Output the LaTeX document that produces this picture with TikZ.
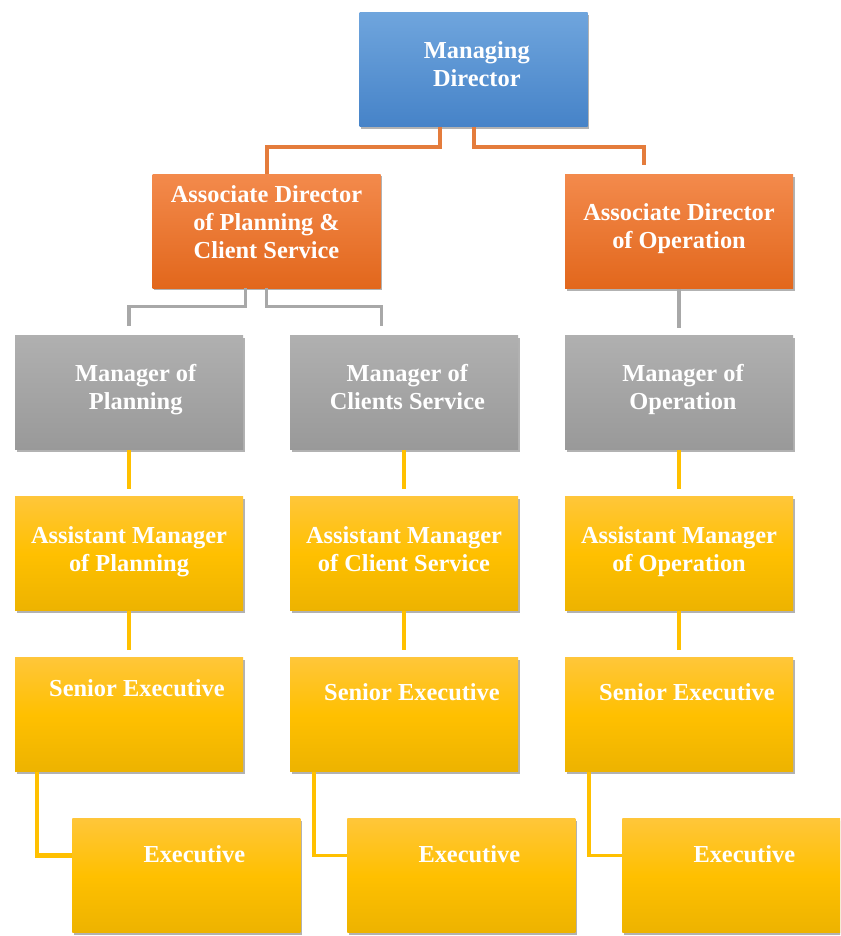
\documentclass[tikz,border=0pt]{standalone}
\usepackage{fontspec}
\setmainfont{Liberation Serif}
\usetikzlibrary{positioning,shadows}
\definecolor{mdTop}{HTML}{6FA5DD}
\definecolor{mdBot}{HTML}{4683C8}
\definecolor{adTop}{HTML}{F38A4C}
\definecolor{adBot}{HTML}{E2671C}
\definecolor{mgTop}{HTML}{B0B0B0}
\definecolor{mgBot}{HTML}{999999}
\definecolor{exTop}{HTML}{FFC63A}
\definecolor{exBot}{HTML}{EDB300}
\definecolor{lnOrange}{HTML}{E47C3C}
\definecolor{lnGray}{HTML}{A8A8A8}
\definecolor{lnGold}{HTML}{FFC000}
% box text: optional lift, then the lines
\newcommand{\boxtext}[2][-2pt]{\raisebox{#1}[0pt][0pt]{\begin{tabular}{@{}c@{}}#2\end{tabular}}}

\begin{document}
\begin{tikzpicture}[
 x=0.75pt, y=-0.75pt,
 node distance=35.25pt and 35.25pt,
 box/.style={text=white, font=\fontsize{18.3}{21}\selectfont\bfseries,
 minimum width=171pt, minimum height=85.5pt, inner sep=0pt, outer sep=0pt,
 drop shadow={shadow xshift=1.2pt, shadow yshift=-1.8pt, opacity=0.3, fill=black}},
 mdbox/.style={box, top color=mdTop, bottom color=mdBot},
 adbox/.style={box, top color=adTop, bottom color=adBot},
 mgbox/.style={box, top color=mgTop, bottom color=mgBot},
 exbox/.style={box, top color=exTop, bottom color=exBot, middle color=lnGold},
 lo/.style={lnOrange, line width=3pt},
 lg/.style={lnGray, line width=2.4pt},
 ly/.style={lnGold, line width=2.4pt},
]
 \clip (0,0) rectangle (840,936);
 \fill[white] (0,0) rectangle (840,936);

 \node[mdbox] (md) at (473.5,69.5) {\boxtext{\hspace*{5pt}Managing\\ \hspace*{5pt}Director}};
 \node[adbox] (adp) at (266.5,231) {\boxtext[0pt]{Associate Director\\ of Planning \&\\ Client Service}};

 \node[mgbox] (mpl) at (129,392.5) {\boxtext{\hspace*{10pt}Manager of\\ \hspace*{10pt}Planning}};
 \node[mgbox, right=of mpl] (mcs) {\boxtext{\hspace*{5pt}Manager of\\ \hspace*{5pt}Clients Service}};
 \node[mgbox, right=of mcs] (mop) {\boxtext{\hspace*{6pt}Manager of\\ \hspace*{6pt}Operation}};
 \node[adbox, above=of mop] (ado) {\boxtext{Associate Director\\ of Operation}};

 \node[exbox, below=of mpl] (apl) {\boxtext[-3pt]{Assistant Manager\\ of Planning}};
 \node[exbox, below=of mcs] (acs) {\boxtext[-3pt]{Assistant Manager\\ of Client Service}};
 \node[exbox, below=of mop] (aop) {\boxtext[-3pt]{Assistant Manager\\ of Operation}};

 \node[exbox, below=of apl] (spl) {\boxtext[13.5pt]{\hspace*{12pt}Senior Executive}};
 \node[exbox, below=of acs] (scs) {\boxtext[10.5pt]{\hspace*{12pt}Senior Executive}};
 \node[exbox, below=of aop] (sop) {\boxtext[10.5pt]{\hspace*{12pt}Senior Executive}};

 \node[exbox, below=of spl, xshift=43pt] (epl) {\boxtext[9.5pt]{\hspace*{12pt}Executive}};
 \node[exbox, below=of scs, xshift=43pt] (ecs) {\boxtext[9.5pt]{\hspace*{12pt}Executive}};
 \node[exbox, below=of sop, xshift=43pt] (eop) {\boxtext[9.5pt]{\hspace*{12pt}Executive}};

 % director level
 \draw[lo] ([xshift=-25pt]md.south) -- ++(0,-15pt) -| (adp.north);
 \draw[lo] (md.south) -- ++(0,-15pt) -| ([xshift=-26pt,yshift=7pt]ado.north);
 % managers
 \draw[lg] ([xshift=-16pt]adp.south) -- ++(0,-14pt) -| ([yshift=7pt]mpl.north);
 \draw[lg] (adp.south) -- ++(0,-14pt) -| ([xshift=-17pt,yshift=7pt]mcs.north);
 \draw[lg] (ado.south) -- ([yshift=6pt]mop.north);
 % assistants and seniors
 \foreach \up/\dn in {mpl/apl, mcs/acs, mop/aop, apl/spl, acs/scs, aop/sop}
  \draw[ly] (\up.south) -- ([yshift=6pt]\dn.north);
 % executives
 \draw[lnGold, line width=3.6pt] ([xshift=16.5pt]spl.south west) |- ([yshift=15pt]epl.west);
 \draw[ly] ([xshift=18pt]scs.south west) |- ([yshift=15pt]ecs.west);
 \draw[ly] ([xshift=18pt]sop.south west) |- ([yshift=15pt]eop.west);
\end{tikzpicture}
\end{document}
